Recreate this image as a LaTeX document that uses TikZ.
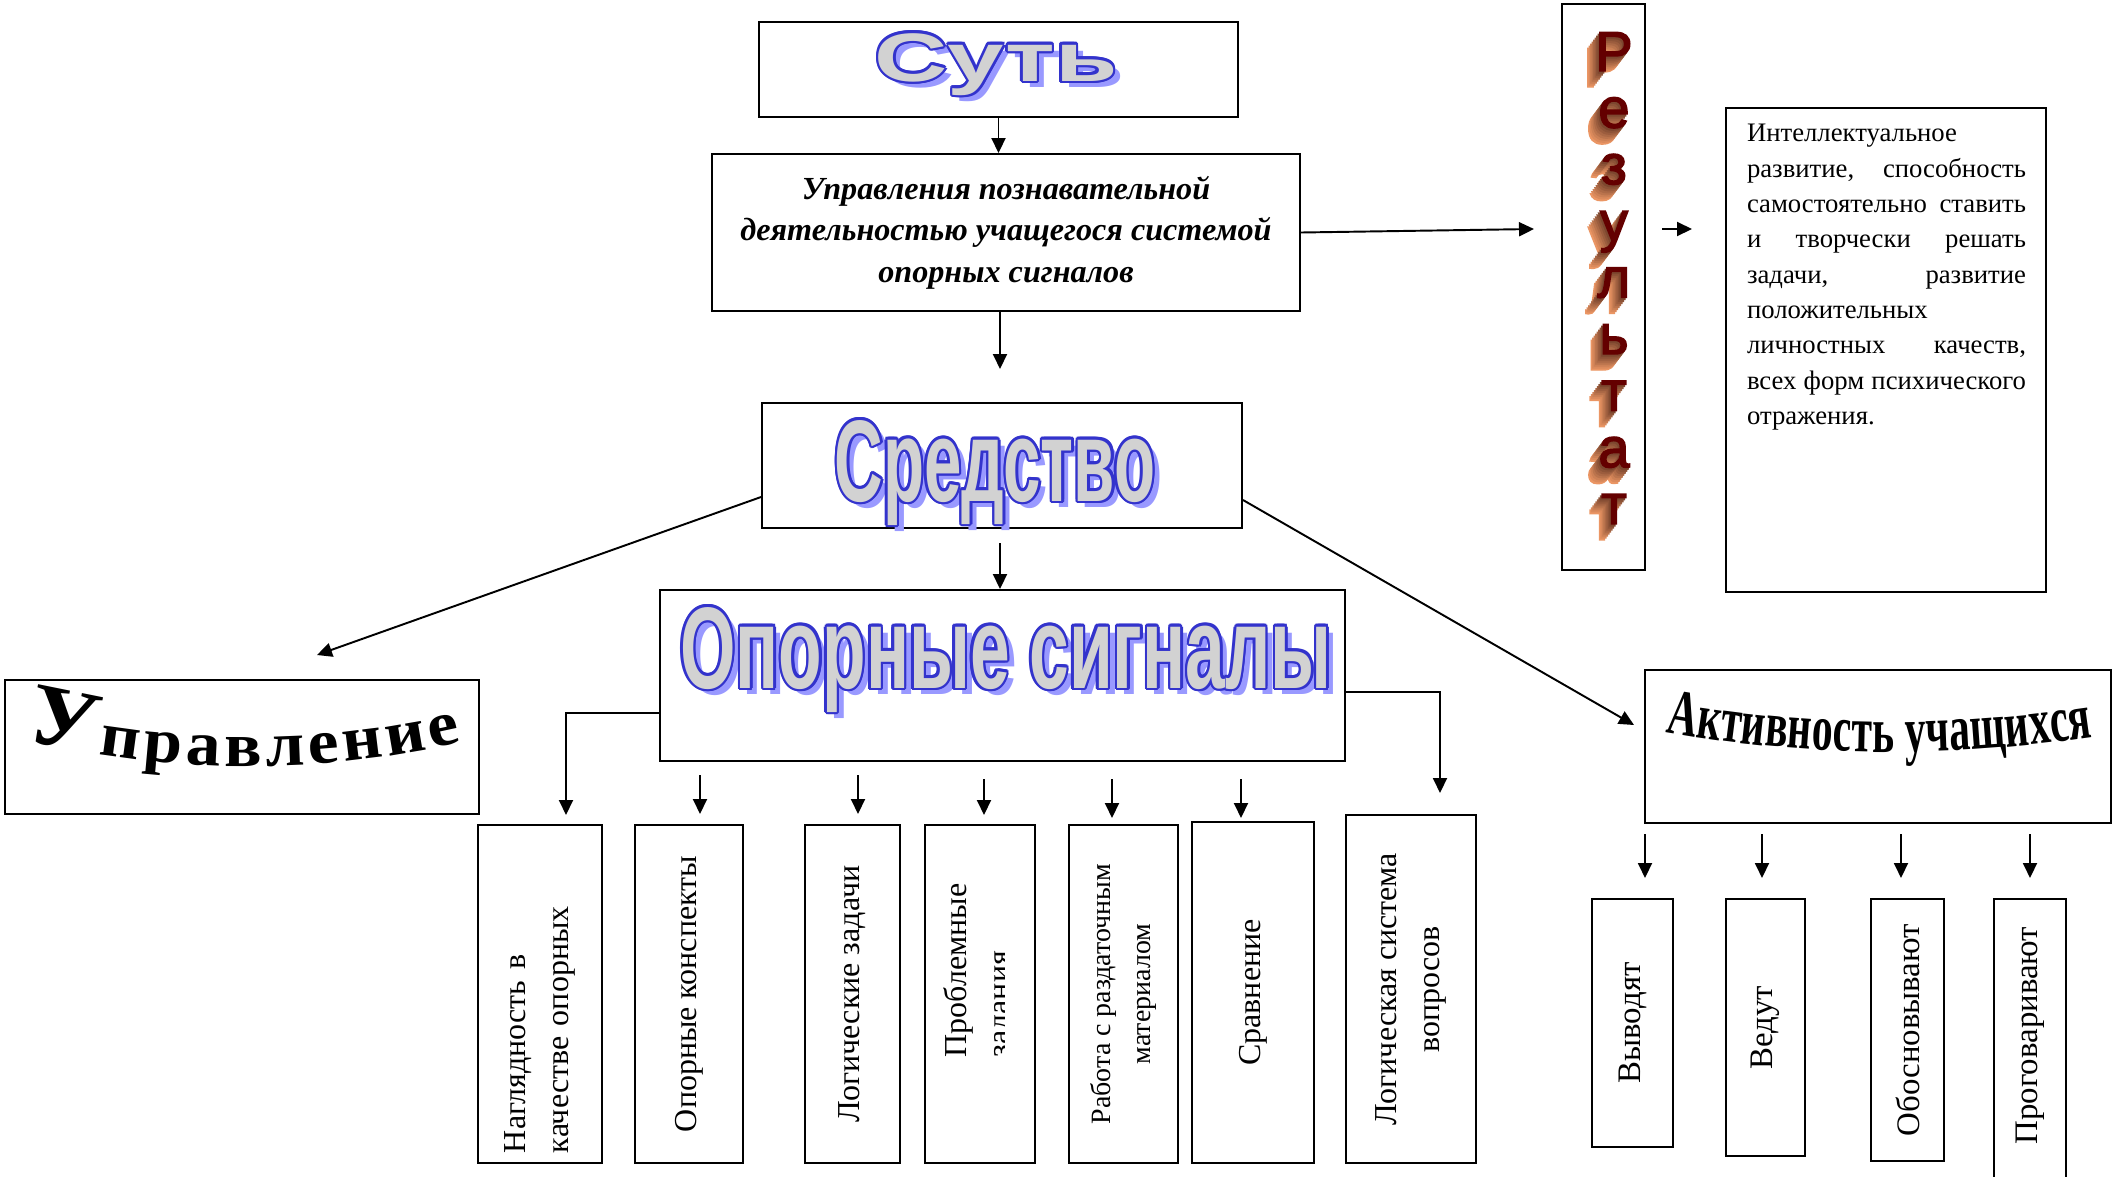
\documentclass[tikz,border=0pt]{standalone}
\usepackage{fontspec}
\setmainfont{Liberation Serif}
\newfontfamily\wideart[FakeStretch=1.48]{Liberation Sans}
\newfontfamily\narrowart[FakeStretch=0.58]{Liberation Sans}
\newfontfamily\signalart[FakeStretch=0.615]{Liberation Sans}
\newfontfamily\archserif[FakeStretch=1.1]{Liberation Serif}
\newfontfamily\condserif[FakeStretch=0.64]{Liberation Serif}
\newfontfamily\heavysans[FakeBold=2.5]{Liberation Sans}
\usetikzlibrary{arrows.meta,decorations.text}
\definecolor{artfill}{RGB}{210,210,210}
\definecolor{artline}{RGB}{51,51,204}
\definecolor{artshadow}{RGB}{153,153,255}
\definecolor{rzfront}{RGB}{100,0,0}
\definecolor{rzfar}{RGB}{235,150,100}
\definecolor{rznear}{RGB}{110,60,40}
\tikzstyle{box}=[draw, rectangle, inner sep=0pt]
\tikzstyle{vbox}=[box, rotate=90, align=center, font=\fontsize{18.2}{24.5}\selectfont]
\tikzstyle{rbox}=[box, rotate=90, font=\fontsize{18.7}{22}\selectfont]
\tikzstyle{arr}=[-{Triangle[length=0.3cm,width=0.28cm]}]
\tikzstyle{rzletter}=[anchor=base, inner sep=0pt, font=\heavysans\fontsize{32}{32}\selectfont]
\newcommand{\bigarch}{\archserif\bfseries\fontsize{50}{50}\selectfont}
\newcommand{\smallarch}{\archserif\bfseries\fontsize{36}{36}\selectfont}
\newcommand{\aktarch}{\condserif\bfseries\fontsize{37}{37}\selectfont}
\newcommand{\gap}{\hspace{0.15em plus 1fill}}
% shadow, blue outline and grey face of a title
\newcommand{\outlinetext}[4]{%
  \node[anchor=base, text=artshadow, font=#3] (#1-sh) at ([shift={(0.14,-0.12)}]#2) {#4};
  \foreach \a in {0,30,...,330}
    \node[anchor=base, text=artline, font=#3] (#1-\a) at ([shift={(\a:0.05)}]#2) {#4};
  \node[anchor=base, text=artfill, font=#3] (#1) at (#2) {#4};
}

\begin{document}
\begin{tikzpicture}[line width=1.1pt]
\useasboundingbox (0,0) rectangle (42.28,-23.52);

% central column
\node[box, minimum width=9.58cm, minimum height=1.9cm] (sut) at (19.97,-1.39) {};
\coordinate (sut-c) at (19.92,-1.62);
\outlinetext{sut-t}{sut-c}{\wideart\bfseries\fontsize{39}{39}\selectfont}{Суть}

\node[box, minimum width=11.76cm, minimum height=3.14cm, align=center,
  font=\fontsize{18.3}{23.6}\selectfont\bfseries\itshape] (upr) at (20.12,-4.65)
  {Управления познавательной\\деятельностью учащегося системой\\опорных сигналов};

\node[box, minimum width=9.6cm, minimum height=2.5cm] (sred) at (20.04,-9.31) {};
\coordinate (sred-c) at (19.9,-10.02);
\outlinetext{sred-t}{sred-c}{\narrowart\bfseries\fontsize{66}{66}\selectfont}{Средство}

\node[box, minimum width=13.7cm, minimum height=3.42cm] (ops) at (20.05,-13.51) {};
\coordinate (ops-c) at (20.12,-13.76);
\outlinetext{ops-t}{ops-c}{\signalart\bfseries\fontsize{66}{66}\selectfont}{Опорные сигналы}

% side boxes
\node[box, minimum width=9.48cm, minimum height=2.68cm] (uprav) at (4.84,-14.94) {};
\path[decorate, decoration={text along path, text align={fit to path},
  text={|\bigarch|У|\smallarch|правление}}]
  (0.5,-14.8) .. controls (3.4,-15.5) and (6.4,-15.5) .. (9.24,-14.84);

\node[box, minimum width=9.32cm, minimum height=3.06cm] (akt) at (37.56,-14.93) {};
\path[decorate, decoration={text along path, text align={fit to path},
  text={|\aktarch|Активность учащихся}}]
  (33.3,-14.64) .. controls (36.2,-15.16) and (39,-15.16) .. (41.86,-14.74);

% result column
\node[box, minimum width=1.66cm, minimum height=11.32cm] (rez) at (32.07,-5.74) {};
\foreach \ch [count=\i] in {Р,е,з,у,л,ь,т,а,т} {
  \foreach \k in {8,7,...,1} {
    \pgfmathtruncatemacro{\mix}{\k*12.5}
    \node[rzletter, text=rzfar!\mix!rznear] (rz\i-\k) at ({32.28-0.03*\k},{-1.42-1.132*(\i-1)-0.04*\k}) {\ch};
  }
  \node[rzletter, text=rzfront] (rz\i) at (32.28,{-1.42-1.132*(\i-1)}) {\ch};
}

\node[box, minimum width=6.4cm, minimum height=9.68cm] (itog) at (37.72,-7.0) {};
\node[anchor=north west, inner sep=0pt, text width=5.58cm,
  font=\fontsize{15.2}{20.1}\selectfont] (itog-t) at ([shift={(0.42,-0.33)}]itog.north west)
  {Интеллектуальное\\
   развитие,\gap способность\\
   самостоятельно\gap ставить\\
   и\gap творчески\gap решать\\
   задачи,\gap развитие\\
   положительных\\
   личностных\gap качеств,\\
   всех\gap форм\gap психического\\
   отражения.};

% arrows of the central column
\draw[arr] (sut.south) -- (sut.south |- upr.north);
\coordinate (a-sred) at (20,-7.38);
\draw[arr] (upr.south -| a-sred) -- (a-sred);
\coordinate (a-ops) at (20,-10.86);
\draw[arr] (a-ops) -- (a-ops |- ops.north);
\coordinate (a-uprav) at (6.34,-13.1);
\draw[arr] ([yshift=-0.63cm]sred.west) -- (a-uprav);
\coordinate (a-akt) at (32.68,-14.5);
\draw[arr] ([yshift=-0.69cm]sred.east) -- (a-akt);
\coordinate (a-rez) at (30.68,-4.58);
\draw[arr] (upr.east) -- (a-rez);
\coordinate (a-itog1) at (33.24,-4.58);
\coordinate (a-itog2) at (33.84,-4.58);
\draw[arr] (a-itog1) -- (a-itog2);

% signal boxes
\node[vbox, minimum width=6.76cm, minimum height=2.48cm, text width=6.36cm, align=left] (b1) at (10.8,-19.88)
  {Наглядность в\\качестве опорных};
\node[vbox, minimum width=6.76cm, minimum height=2.16cm] (b2) at (13.78,-19.88) {Опорные конспекты};
\node[vbox, minimum width=6.76cm, minimum height=1.9cm] (b3) at (17.05,-19.88) {Логические задачи};
\node[vbox, minimum width=6.76cm, minimum height=2.2cm, align=left] (b4) at (19.6,-19.88)
  {\hspace*{0.94cm}Проблемные\\\hspace*{0.94cm}задания};
% the second line is cut off in the frame
\fill[white] (20.1,-18.9) rectangle (20.64,-21.3);
\node[vbox, minimum width=6.76cm, minimum height=2.18cm, font=\fontsize{15.9}{22.8}\selectfont] (b5) at (22.47,-19.88)
  {Работа с раздаточным\\материалом};
\node[vbox, minimum width=6.82cm, minimum height=2.44cm] (b6) at (25.06,-19.85) {Сравнение};
\node[vbox, minimum width=6.96cm, minimum height=2.6cm] (b7) at (28.22,-19.78)
  {Логическая система\\вопросов};

\coordinate (e-left) at (11.32,-16.3);
\draw[arr] ([yshift=-0.75cm]ops.west) -| (e-left);
\coordinate (e-right) at (28.8,-15.86);
\draw[arr] ([yshift=-0.33cm]ops.east) -| (e-right);
\foreach \x/\ya/\yb [count=\i] in {14/15.5/16.28, 17.16/15.5/16.28, 19.68/15.58/16.3,
    22.24/15.58/16.36, 24.82/15.58/16.36} {
  \coordinate (m\i-s) at (\x,-\ya);
  \coordinate (m\i-e) at (\x,-\yb);
  \draw[arr] (m\i-s) -- (m\i-e);
}

% activity boxes
\node[rbox, minimum width=4.96cm, minimum height=1.62cm] (v1) at (32.65,-20.46) {Выводят};
\node[rbox, minimum width=5.14cm, minimum height=1.58cm] (v2) at (35.31,-20.55) {Ведут};
\node[rbox, minimum width=5.24cm, minimum height=1.46cm] (v3) at (38.15,-20.6) {Обосновывают};
\node[rbox, minimum width=6.02cm, minimum height=1.44cm] (v4) at (40.6,-20.99) {\hspace*{0.56cm}Проговаривают};
\foreach \x [count=\i] in {32.9,35.24,38.02,40.6} {
  \coordinate (r\i-s) at (\x,-16.68);
  \coordinate (r\i-e) at (\x,-17.56);
  \draw[arr] (r\i-s) -- (r\i-e);
}

\end{tikzpicture}
\end{document}
